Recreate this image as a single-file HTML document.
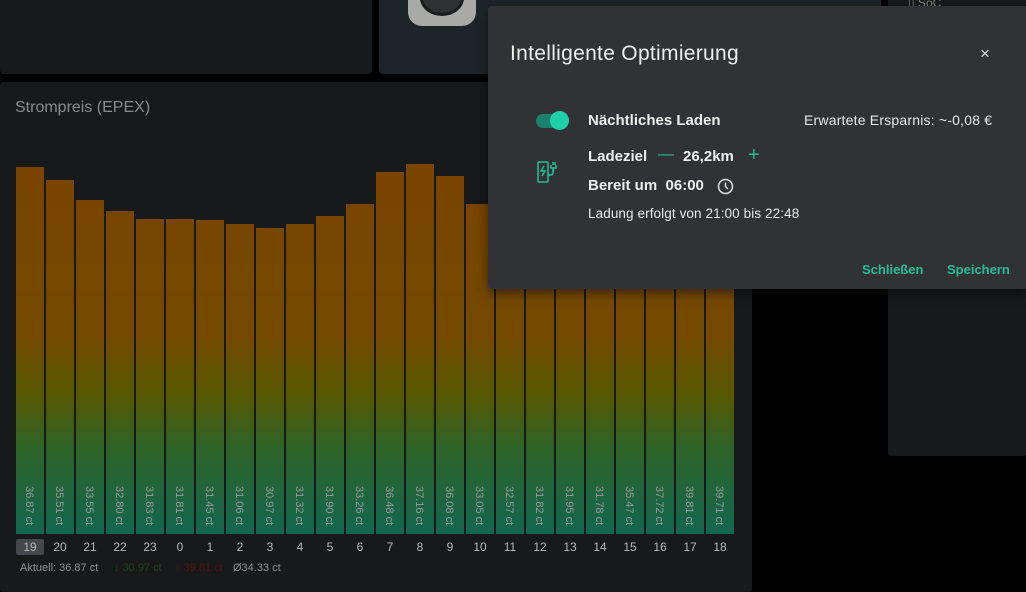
<!DOCTYPE html>
<html><head><meta charset="utf-8"><style>
*{margin:0;padding:0;box-sizing:border-box}
body{width:1026px;height:584px;background:#000;position:relative;overflow:hidden;font-family:"Liberation Sans",sans-serif}
.abs{position:absolute}
.card{background:#18191b;border-radius:4px}
.t{position:absolute;white-space:nowrap}
</style></head><body>
<div class="abs card" style="left:0;top:-4px;width:372px;height:78px"></div>
<div class="abs" style="left:379px;top:-4px;width:502px;height:78px;background:#1c262a;border-radius:4px"></div>
<div class="abs" style="left:408px;top:-20px;width:68px;height:46px;background:#a9a9a7;border-radius:14px"></div>
<div class="abs" style="left:420px;top:-20px;width:44px;height:36px;background:#2e3032;border-radius:50%;border:3px solid #1a1b1c"></div>
<div class="abs card" style="left:888px;top:-4px;width:140px;height:460px"></div>
<div class="t" style="left:908px;top:-4px;color:#888;font-size:12px">▯ SoC</div>
<div class="abs card" style="left:0;top:82px;width:752px;height:510px"></div>
<div class="t" style="left:15px;top:99px;color:#8a8a8a;font-size:16px">Strompreis (EPEX)</div>
<svg class="abs" style="left:0;top:0" width="1026" height="584">
<defs><linearGradient id="g" gradientUnits="userSpaceOnUse" x1="0" y1="140" x2="0" y2="534">
<stop offset="0" stop-color="#7a4300"/><stop offset="0.5" stop-color="#744a00"/><stop offset="0.64" stop-color="#585800"/><stop offset="0.78" stop-color="#2f6428"/><stop offset="1" stop-color="#126650"/></linearGradient></defs>
<g fill="url(#g)">
<rect x="16" y="167" width="28" height="367"/><rect x="46" y="180" width="28" height="354"/><rect x="76" y="200" width="28" height="334"/><rect x="106" y="211" width="28" height="323"/><rect x="136" y="219" width="28" height="315"/><rect x="166" y="219" width="28" height="315"/><rect x="196" y="220" width="28" height="314"/><rect x="226" y="224" width="28" height="310"/><rect x="256" y="228" width="28" height="306"/><rect x="286" y="224" width="28" height="310"/><rect x="316" y="216" width="28" height="318"/><rect x="346" y="204" width="28" height="330"/><rect x="376" y="172" width="28" height="362"/><rect x="406" y="164" width="28" height="370"/><rect x="436" y="176" width="28" height="358"/><rect x="466" y="204" width="28" height="330"/><rect x="496" y="211" width="28" height="323"/><rect x="526" y="219" width="28" height="315"/><rect x="556" y="218" width="28" height="316"/><rect x="586" y="220" width="28" height="314"/><rect x="616" y="181" width="28" height="353"/><rect x="646" y="158" width="28" height="376"/><rect x="676" y="137" width="28" height="397"/><rect x="706" y="138" width="28" height="396"/>
</g>
<g fill="#9a9a9a" font-size="11" font-family="Liberation Sans">
<text transform="translate(26,486) rotate(90)">36.87 ct</text><text transform="translate(56,486) rotate(90)">35.51 ct</text><text transform="translate(86,486) rotate(90)">33.55 ct</text><text transform="translate(116,486) rotate(90)">32.80 ct</text><text transform="translate(146,486) rotate(90)">31.83 ct</text><text transform="translate(176,486) rotate(90)">31.81 ct</text><text transform="translate(206,486) rotate(90)">31.45 ct</text><text transform="translate(236,486) rotate(90)">31.06 ct</text><text transform="translate(266,486) rotate(90)">30.97 ct</text><text transform="translate(296,486) rotate(90)">31.32 ct</text><text transform="translate(326,486) rotate(90)">31.90 ct</text><text transform="translate(356,486) rotate(90)">33.26 ct</text><text transform="translate(386,486) rotate(90)">36.48 ct</text><text transform="translate(416,486) rotate(90)">37.16 ct</text><text transform="translate(446,486) rotate(90)">36.08 ct</text><text transform="translate(476,486) rotate(90)">33.05 ct</text><text transform="translate(506,486) rotate(90)">32.57 ct</text><text transform="translate(536,486) rotate(90)">31.82 ct</text><text transform="translate(566,486) rotate(90)">31.95 ct</text><text transform="translate(596,486) rotate(90)">31.78 ct</text><text transform="translate(626,486) rotate(90)">35.47 ct</text><text transform="translate(656,486) rotate(90)">37.72 ct</text><text transform="translate(686,486) rotate(90)">39.81 ct</text><text transform="translate(716,486) rotate(90)">39.71 ct</text>
</g>
<rect x="16" y="539" width="28" height="16" rx="2" fill="#46474a"/>
<g fill="#b8b8b8" font-size="12" font-family="Liberation Sans" text-anchor="middle">
<text x="30" y="551">19</text><text x="60" y="551">20</text><text x="90" y="551">21</text><text x="120" y="551">22</text><text x="150" y="551">23</text><text x="180" y="551">0</text><text x="210" y="551">1</text><text x="240" y="551">2</text><text x="270" y="551">3</text><text x="300" y="551">4</text><text x="330" y="551">5</text><text x="360" y="551">6</text><text x="390" y="551">7</text><text x="420" y="551">8</text><text x="450" y="551">9</text><text x="480" y="551">10</text><text x="510" y="551">11</text><text x="540" y="551">12</text><text x="570" y="551">13</text><text x="600" y="551">14</text><text x="630" y="551">15</text><text x="660" y="551">16</text><text x="690" y="551">17</text><text x="720" y="551">18</text>
</g>
<g font-size="11" font-family="Liberation Sans">
<text x="20" y="571" fill="#8e8e8e">Aktuell: 36.87 ct</text>
<text x="114" y="571" fill="#1a431a">↓ 30.97 ct</text>
<text x="175" y="571" fill="#521414">↑ 39.81 ct</text>
<text x="233" y="571" fill="#8e8e8e">Ø34.33 ct</text>
</g>
</svg>
<div class="abs" style="left:488px;top:6px;width:540px;height:283px;background:#313236;border-radius:4px;box-shadow:0 4px 12px rgba(0,0,0,.5)"></div>
<div class="t" style="left:510px;top:42px;color:#eee;font-size:21px;letter-spacing:0.3px">Intelligente Optimierung</div>
<div class="t" style="left:980px;top:44px;color:#ddd;font-size:17px">×</div>
<div class="abs" style="left:536px;top:114px;width:30px;height:14px;background:#1d7f6d;border-radius:7px"></div>
<div class="abs" style="left:550px;top:111px;width:19px;height:19px;background:#1fcfa8;border-radius:50%"></div>
<div class="t" style="left:588px;top:112px;color:#eee;font-size:15px;font-weight:bold">Nächtliches Laden</div>
<div class="t" style="left:804px;top:112px;color:#e8e8e8;font-size:14px;letter-spacing:0.2px">Erwartete Ersparnis: ~-0,08 €</div>
<svg class="abs" style="left:537px;top:160px" width="24" height="24" fill="none" stroke="#1fbf98" stroke-width="1.5"><rect x="1" y="2" width="10" height="20" rx="1"/><path d="M7 6l-3 5h4l-3 5"/><path d="M11 15h3c2 0 2-2 2-4v-2M14 5v3h5V5M16 5V2M18 5V2M16.5 8v3"/></svg>
<div class="t" style="left:588px;top:148px;color:#eee;font-size:15px;font-weight:bold">Ladeziel</div>
<div class="t" style="left:658px;top:146px;color:#1fbf98;font-size:16px">—</div>
<div class="t" style="left:683px;top:148px;color:#eee;font-size:15px;font-weight:bold">26,2km</div>
<div class="t" style="left:748px;top:144px;color:#1fbf98;font-size:20px">+</div>
<div class="t" style="left:588px;top:177px;color:#eee;font-size:15px;font-weight:bold">Bereit um&nbsp; 06:00</div>
<svg class="abs" style="left:717px;top:178px" width="17" height="17" fill="none" stroke="#ddd" stroke-width="1.5"><circle cx="8.5" cy="8.5" r="7"/><path d="M8.5 4.5v4l2.5 2.5"/></svg>
<div class="t" style="left:588px;top:206px;color:#e8e8e8;font-size:13.5px;letter-spacing:0.1px">Ladung erfolgt von 21:00 bis 22:48</div>
<div class="t" style="left:862px;top:262px;color:#1fbf98;font-size:13px;font-weight:bold">Schließen</div>
<div class="t" style="left:947px;top:262px;color:#1fbf98;font-size:13px;font-weight:bold">Speichern</div>
</body></html>
